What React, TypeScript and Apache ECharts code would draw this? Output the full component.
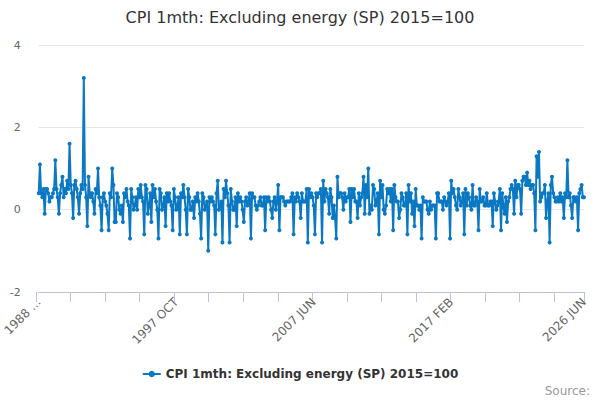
import React, { useEffect, useRef } from "react";
import * as echarts from "echarts";

const TITLE = "CPI 1mth: Excluding energy (SP) 2015=100";
const MONTHS = ["JAN", "FEB", "MAR", "APR", "MAY", "JUN", "JUL", "AUG", "SEP", "OCT", "NOV", "DEC"];
const START_YEAR = 1988;
const START_MONTH = 1; // FEB
const END_YEAR = 2026;
const END_MONTH = 5; // JUN

// Feb 1988 - Dec 1989
const values1988s = [
  0.4, 1.1, 0.4, 0.3, 0.5, -0.1, 0.5, 0.5, 0.4, 0.2, 0.3,
  0.3, 0.4, 0.5, 1.2, 0.5, 0.3, -0.1, 0.4, 0.6, 0.8, 0.3, 0.5,
];
// 1990 - 1999
const values1990s = [
  0.4, 0.7, 0.5, 1.6, 0.6, 0.4, -0.2, 0.6, 0.7, 0.5, 0.3, -0.1,
  0.4, 0.6, 0.5, 3.2, 0.6, 0.3, -0.4, 0.8, 0.4, 0.3, 0.4, 0.2,
  -0.1, 0.5, 0.4, 1.0, 0.3, 0.1, -0.5, 0.3, 0.4, 0.2, 0.1, -0.1,
  -0.5, 0.4, 0.3, 1.0, 0.6, -0.3, -0.3, 0.4, 0.3, 0.0, -0.1, 0.1,
  -0.3, 0.4, 0.3, 0.5, 0.2, 0.1, -0.7, 0.5, 0.3, 0.0, 0.1, 0.3,
  0.0, 0.5, 0.3, 0.6, 0.3, 0.2, -0.6, 0.6, 0.5, -0.1, 0.1, 0.4,
  -0.3, 0.6, 0.3, 0.5, 0.2, 0.0, -0.7, 0.5, 0.4, 0.0, 0.1, 0.3,
  -0.4, 0.4, 0.2, 0.4, 0.2, 0.1, -0.5, 0.5, 0.3, 0.0, 0.1, 0.3,
  -0.6, 0.4, 0.3, 0.6, 0.3, 0.0, -0.6, 0.5, 0.3, 0.0, 0.0, 0.2,
  -0.2, 0.3, 0.2, 0.4, 0.2, -0.1, -0.7, 0.4, 0.3, 0.0, 0.1, 0.2,
];
// 2000 - 2009
const values2000s = [
  -1.0, 0.3, 0.2, 0.3, 0.2, 0.1, -0.6, 0.4, 0.7, 0.0, 0.1, 0.2,
  -0.8, 0.5, 0.3, 0.7, 0.4, 0.1, -0.8, 0.5, 0.2, 0.0, 0.0, 0.3,
  -0.4, 0.4, 0.2, 0.3, 0.2, 0.0, -0.3, 0.2, 0.3, 0.1, 0.2, 0.4,
  -0.7, 0.4, 0.3, 0.3, 0.1, 0.0, 0.1, 0.2, 0.3, 0.1, 0.1, 0.3,
  -0.5, 0.3, 0.2, 0.3, 0.2, 0.0, -0.2, 0.2, 0.3, 0.0, 0.2, 0.6,
  -0.5, 0.3, 0.3, 0.3, 0.2, 0.1, 0.2, 0.2, 0.2, 0.2, 0.3, 0.4,
  -0.6, 0.3, 0.2, 0.4, 0.3, 0.2, -0.2, 0.4, 0.2, 0.2, 0.2, 0.5,
  -0.8, 0.5, 0.3, 0.4, 0.3, 0.1, -0.6, 0.4, 0.3, 0.4, 0.4, 0.5,
  -0.8, 0.7, 0.2, 0.5, 0.4, 0.3, -0.1, 0.5, 0.3, -0.2, 0.1, -0.2,
  -0.7, 0.8, 0.3, 0.4, 0.4, 0.3, 0.0, 0.4, 0.2, 0.3, 0.3, 0.5,
];
// 2010 - 2019
const values2010s = [
  -0.3, 0.5, 0.3, 0.5, 0.2, 0.2, -0.2, 0.4, 0.1, 0.3, 0.4, 0.8,
  -0.1, 0.6, 0.3, 1.0, -0.1, 0.1, 0.0, 0.6, 0.5, 0.1, 0.2, 0.4,
  -0.6, 0.7, 0.3, 0.6, 0.0, -0.1, 0.1, 0.5, 0.4, 0.5, 0.2, 0.5,
  -0.5, 0.6, 0.3, 0.2, 0.2, -0.2, 0.0, 0.4, 0.3, 0.1, 0.1, 0.4,
  -0.6, 0.6, 0.2, 0.4, -0.1, 0.2, -0.4, 0.5, 0.1, 0.1, 0.0, 0.1,
  -0.7, 0.3, 0.2, 0.2, 0.2, 0.0, -0.1, 0.2, 0.0, 0.1, 0.1, 0.1,
  -0.7, 0.4, 0.4, 0.2, 0.2, 0.2, 0.0, 0.3, 0.2, 0.1, 0.2, 0.4,
  -0.7, 0.7, 0.4, 0.5, 0.3, 0.1, 0.0, 0.5, 0.3, 0.1, 0.2, 0.4,
  -0.6, 0.5, 0.1, 0.4, 0.3, 0.1, 0.0, 0.6, 0.1, 0.1, 0.3, 0.2,
  -0.5, 0.5, 0.2, 0.2, 0.3, 0.1, 0.1, 0.4, 0.1, 0.1, 0.2, 0.2,
];
// 2020 - Jun 2026
const values2020s = [
  -0.4, 0.4, 0.2, 0.0, 0.1, 0.2, 0.5, -0.5, 0.4, 0.1, -0.1, 0.3,
  -0.3, 0.2, 0.3, 0.5, 0.6, 0.5, -0.1, 0.7, 0.3, 0.6, 0.6, 0.5,
  -0.1, 0.7, 0.8, 0.8, 0.6, 0.9, 0.6, 0.7, 0.5, 0.6, 0.6, 0.4,
  -0.5, 1.3, 0.8, 1.4, 0.2, 0.3, 0.4, 0.4, 0.6, -0.2, 0.2, 0.4,
  -0.8, 0.6, 0.8, 0.4, 0.3, 0.2, 0.2, 0.3, 0.2, 0.4, 0.2, 0.3,
  -0.2, 0.4, 0.3, 1.2, 0.3, 0.4, 0.1, -0.2, 0.3, 0.3, 0.2, 0.3,
  -0.5, 0.4, 0.5, 0.6, 0.3, 0.3,
];
const Y_TICKS = [-2, 0, 2, 4];
const TICK_STEP = 29;
const LABEL_STEP = 116;

function buildCategories(): string[] {
  const out: string[] = [];
  for (let y = START_YEAR; y <= END_YEAR; y++) {
    const m0 = y === START_YEAR ? START_MONTH : 0;
    const m1 = y === END_YEAR ? END_MONTH : 11;
    for (let m = m0; m <= m1; m++) out.push(`${y} ${MONTHS[m]}`);
  }
  return out;
}

export default function App() {
  const ref = useRef<HTMLDivElement>(null);
  useEffect(() => {
    if (!ref.current) return;
    const chart = echarts.init(ref.current, undefined, { renderer: "svg" });
    const categories = buildCategories();
    const values = [...values1988s, ...values1990s, ...values2000s, ...values2010s, ...values2020s];
    const last = categories.length - 1;
    const font = "'DejaVu Sans', sans-serif";
    chart.setOption({
      animation: false,
      textStyle: { fontFamily: font },
      title: {
        text: TITLE,
        left: "center",
        top: 4,
        textStyle: { fontSize: 16, fontWeight: "normal", color: "#333333", fontFamily: font },
      },
      legend: {
        bottom: 15,
        left: "center",
        itemWidth: 18,
        itemHeight: 8,
        textStyle: { fontSize: 12, fontWeight: "bold", color: "#333333", fontFamily: font },
        data: [TITLE],
      },
      graphic: [
        {
          type: "text",
          right: 10,
          bottom: 3,
          style: { text: "Source:", fill: "#999999", fontSize: 12, fontFamily: font },
        },
      ],
      grid: [
        { left: 36, right: 16, top: 45, bottom: 108, containLabel: false },
        { left: 36, right: 16, top: 292, height: 10, containLabel: false },
      ],
      xAxis: [
        {
          type: "category",
          gridIndex: 0,
          data: categories,
          boundaryGap: false,
          axisLine: { show: true, onZero: false, lineStyle: { color: "#b8c4dc", width: 1 } },
          axisTick: { show: false },
          axisLabel: {
            interval: (i: number) => i % LABEL_STEP === 0 || i === last,
            rotate: 45,
            margin: 8,
            fontSize: 12,
            color: "#666666",
            fontFamily: font,
            formatter: (v: string, i: number) => (i === 0 ? v.slice(0, 4) + " ..." : v),
          },
          splitLine: { show: false },
        },
        {
          type: "category",
          gridIndex: 1,
          data: categories,
          boundaryGap: false,
          axisLine: { show: false },
          axisTick: { show: false },
          axisLabel: { show: false },
          splitLine: {
            show: true,
            interval: (i: number) => i % TICK_STEP === 0 || i === last,
            lineStyle: { color: "#b8c4dc", width: 1 },
          },
        },
      ],
      yAxis: [
        {
          type: "value",
          gridIndex: 0,
          min: Y_TICKS[0],
          max: Y_TICKS[Y_TICKS.length - 1],
          interval: 2,
          axisLine: { show: false },
          axisTick: { show: false },
          axisLabel: { margin: 18, fontSize: 11, color: "#666666", fontFamily: font },
          splitLine: { lineStyle: { color: "#e6e6e6", width: 1 } },
        },
        {
          type: "value",
          gridIndex: 1,
          show: false,
          min: 0,
          max: 1,
          splitLine: { show: false },
        },
      ],
      series: [
        {
          name: TITLE,
          type: "line",
          xAxisIndex: 0,
          yAxisIndex: 0,
          data: values,
          showSymbol: true,
          showAllSymbol: true,
          symbol: "circle",
          symbolSize: 4,
          itemStyle: { color: "#0a78c2" },
          lineStyle: { color: "#0a78c2", width: 2 },
        },
      ],
    });
    return () => chart.dispose();
  }, []);
  return (
    <div
      ref={ref}
      style={{ position: "absolute", left: 0, top: 0, width: 600, height: 400 }}
    />
  );
}
